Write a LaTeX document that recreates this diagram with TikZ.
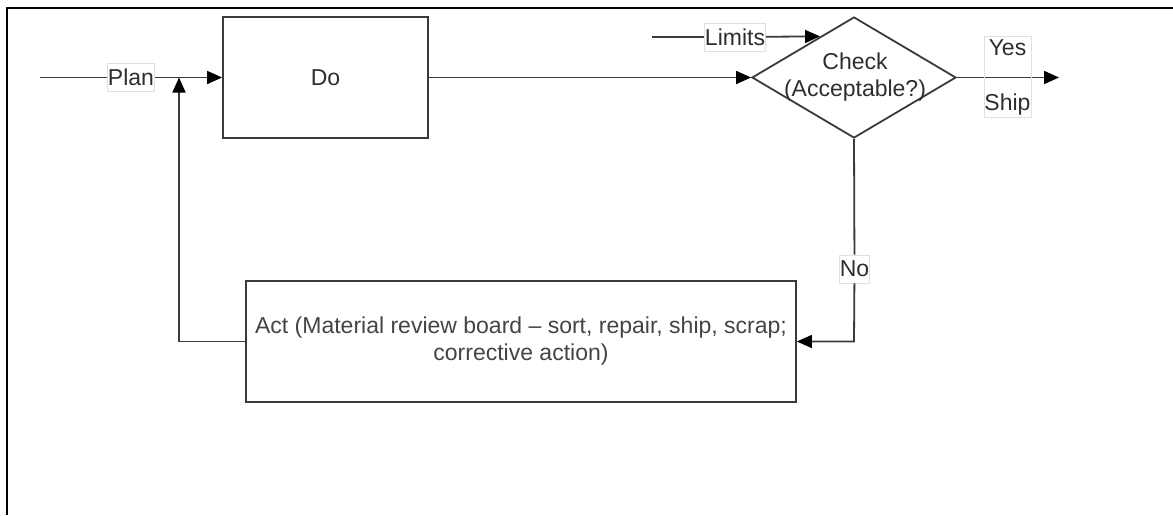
\documentclass[tikz,border=0pt]{standalone}
\usepackage{fontspec}
\setmainfont{Liberation Sans}
\usetikzlibrary{arrows.meta,shapes.geometric,calc}
\definecolor{ink}{HTML}{3A3A3A}
\definecolor{txt}{HTML}{2E2E2E}
\definecolor{acttxt}{HTML}{444444}
\definecolor{tagline}{HTML}{E0E0E0}
\begin{document}
\begin{tikzpicture}[x=1pt,y=-1pt,
  every node/.style={font=\fontsize{23}{27}\selectfont, text=txt},
  box/.style={draw=ink, line width=1.8pt, inner sep=0pt},
  flow/.style={draw=ink, line width=1.8pt, -{Triangle[length=15pt,width=13pt,color=black]}},
  plain/.style={draw=ink, line width=1.8pt},
  tag/.style={draw=tagline, line width=0.8pt, fill=white, inner sep=0.5pt, minimum height=28pt}]

\useasboundingbox (0,0) rectangle (1173,515);

% page frame (left and top rules)
\draw[line width=2.4pt] (7,515) -- (7,8) -- (1173,8);

% main blocks
\node[box, minimum width=205pt, minimum height=121pt] (do) at (325.5,77.5) {Do};
\node[box, diamond, minimum width=204pt, minimum height=121pt] (check) at (854,77.5) {};
\node[align=center, inner sep=0pt] (checktxt) at (855,77) {Check\\(Acceptable?)};
\node[box, minimum width=550pt, minimum height=121pt, align=center, text=acttxt] (act) at (521,341.5)
  {Act (Material review board -- sort, repair, ship, scrap;\\corrective action)};

% plan input
\coordinate (in) at (40,77.5);
\node[tag] (plan) at (131,77.5) {Plan};
\draw[plain] (in) -- (plan);
\draw[flow] (plan) -- (do.west);

% do -> check
\draw[flow] (do.east) -- (check.west);

% limits input
\coordinate (limin) at (652,37);
\node[tag] (limits) at (735,37) {Limits};
\draw[plain] (limin) -- (limits);
\draw[flow] (limits) -- ($(check.west)!0.67!(check.north)$);

% yes branch
\coordinate (out) at (1059,77.5);
\draw[flow] (check.east) -- (out);
\node[draw=tagline, line width=0.8pt, inner sep=0.5pt, minimum width=47pt, minimum height=81pt, align=center]
  (yesship) at (1007.5,77) {Yes\\[28pt]Ship};

% no branch
\node[tag] (no) at (854.5,269) {No};
\coordinate (nocorner) at (854,341.5);
\draw[plain] (check.south) -- (no);
\draw[flow] (no) -- (nocorner) -- (act.east);

% feedback to plan
\coordinate (join) at (179,77.5);
\draw[flow] (act.west) -| (join);
\end{tikzpicture}
\end{document}
